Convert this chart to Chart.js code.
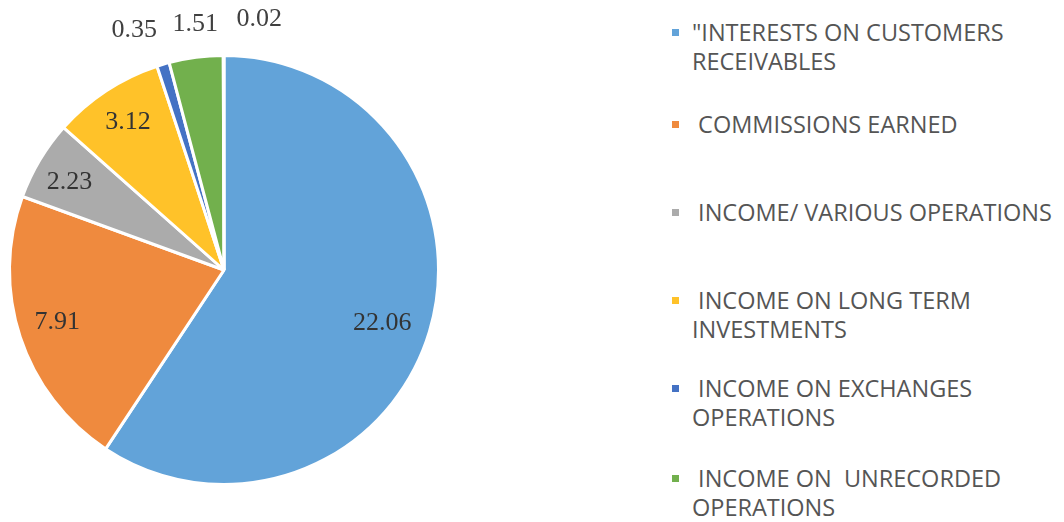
<!DOCTYPE html>
<html>
<head>
<meta charset="utf-8">
<script src="https://cdn.jsdelivr.net/npm/chart.js@4.4.1/dist/chart.umd.min.js"></script>
<style>
  body { margin: 0; background: #fff; }
  #wrap { position: relative; width: 1064px; height: 522px; }
  #pie-box { position: absolute; left: 0; top: 0; width: 448px; height: 522px; }
  #legend { position: absolute; left: 670px; top: 0; font-family: "Open Sans", sans-serif; font-size: 23.5px; color: #555; }
  .item { position: absolute; left: 0; white-space: nowrap; line-height: 29px; }
  .item .box { position: absolute; left: 2px; top: 11px; width: 7px; height: 7px; }
  .item .txt { padding-left: 22px; }
</style>
</head>
<body>
<div id="wrap">
  <div id="pie-box"><canvas id="pie"></canvas></div>
  <div id="legend"></div>
</div>
<script>
// chart data
const categories = [
    '"INTERESTS ON CUSTOMERS|RECEIVABLES',
    ' COMMISSIONS EARNED',
    ' INCOME/ VARIOUS OPERATIONS',
    ' INCOME ON LONG TERM|INVESTMENTS',
    ' INCOME ON EXCHANGES|OPERATIONS',
    ' INCOME ON  UNRECORDED|OPERATIONS',
    ''
];
const values = [22.06, 7.91, 2.23, 3.12, 0.35, 1.51, 0.02];
const valueLabels = ['22.06', '7.91', '2.23', '3.12', '0.35', '1.51', '0.02'];
const colors = ['#62A3D9', '#EF8A3E', '#ABABAB', '#FFC229', '#4472C4', '#72B04D', '#264478'];

// where each value label sits, as a share of the radius and an angle nudge (degrees)
const labelRadius = [0.778, 0.815, 0.83, 0.823, 1.195, 1.153, 1.183];
const labelNudge = [1.9, 0.9, -1.1, 0.3, -4.0, 0.8, 8.1];

const valueLabelPlugin = {
    id: 'valueLabels',
    afterDatasetsDraw(chart) {
        const ctx = chart.ctx;
        const arcs = chart.getDatasetMeta(0).data;
        ctx.save();
        ctx.font = '26px "Liberation Serif", "Times New Roman", serif';
        ctx.textAlign = 'center';
        ctx.textBaseline = 'middle';
        arcs.forEach((arc, i) => {
            const mid = (arc.startAngle + arc.endAngle) / 2 + labelNudge[i] * Math.PI / 180;
            const r = arc.outerRadius * labelRadius[i];
            const x = arc.x + Math.cos(mid) * r;
            const y = arc.y + Math.sin(mid) * r;
            ctx.fillStyle = labelRadius[i] > 1 ? '#404040' : '#333333';
            ctx.fillText(valueLabels[i], x, y);
        });
        ctx.restore();
    }
};

const ctx = document.getElementById('pie').getContext('2d');
const pieChart = new Chart(ctx, {
    type: 'pie',
    data: {
        labels: categories.map(c => c.replace('|', ' ')),
        datasets: [{
            data: values,
            backgroundColor: colors,
            borderColor: '#ffffff',
            borderWidth: 3
        }]
    },
    options: {
        responsive: true,
        maintainAspectRatio: false,
        animation: false,
        layout: { padding: { top: 54, bottom: 36, left: 8, right: 8 } },
        plugins: {
            legend: { display: false },
            tooltip: { enabled: false }
        }
    },
    plugins: [valueLabelPlugin]
});

// html legend (text wraps like the original)
const legendTops = [18, 110, 198, 286, 374, 464];
const legendEl = document.getElementById('legend');
categories.forEach((cat, i) => {
    if (!cat) return;
    const item = document.createElement('div');
    item.className = 'item';
    item.style.top = legendTops[i] + 'px';
    const lines = cat.split('|');
    item.innerHTML = `<span class="box" style="background:${colors[i]}"></span>` +
        lines.map(l => `<div class="txt">${l.replace(/ /g, '&nbsp;')}</div>`).join('');
    legendEl.appendChild(item);
});
</script>
</body>
</html>
